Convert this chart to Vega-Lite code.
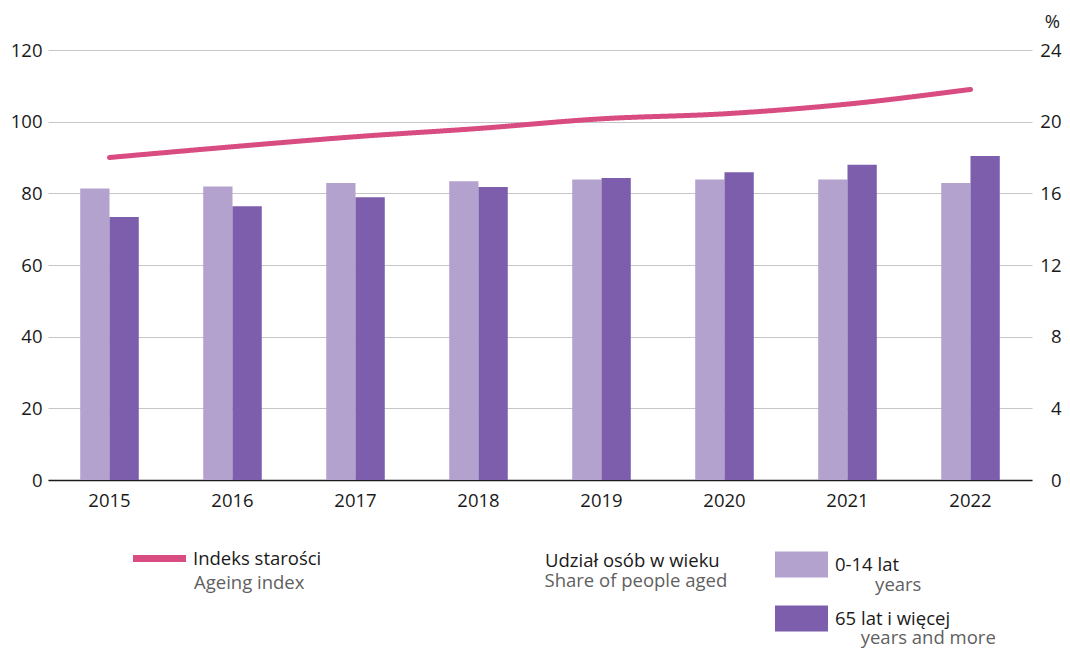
{
  "$schema": "https://vega.github.io/schema/vega-lite/v6.json",
  "width": 984,
  "height": 430,
  "autosize": {"type": "none"},
  "padding": {"left": 48, "top": 50, "right": 38, "bottom": 168},
  "background": "white",
  "config": {
    "view": {"stroke": null},
    "font": "Open Sans",
    "axis": {"labelFont": "Open Sans", "labelFontSize": 18.5, "labelColor": "#1a1a1a", "titleFont": "Open Sans"},
    "legend": {"labelFont": "Open Sans", "labelFontSize": 18.5, "labelLimit": 400}
  },
  "datasets": {
    "shares": [
      {"year": 2015, "group": "0-14 lat", "group_en": "years", "share": 16.27, "head_pl": "Udział osób w wieku"},
      {"year": 2015, "group": "65 lat i więcej", "group_en": "years and more", "share": 14.68, "head_pl": "Udział osób w wieku"},
      {"year": 2016, "group": "0-14 lat", "group_en": "years", "share": 16.38, "head_pl": "Udział osób w wieku"},
      {"year": 2016, "group": "65 lat i więcej", "group_en": "years and more", "share": 15.28, "head_pl": "Udział osób w wieku"},
      {"year": 2017, "group": "0-14 lat", "group_en": "years", "share": 16.58, "head_pl": "Udział osób w wieku"},
      {"year": 2017, "group": "65 lat i więcej", "group_en": "years and more", "share": 15.78, "head_pl": "Udział osób w wieku"},
      {"year": 2018, "group": "0-14 lat", "group_en": "years", "share": 16.67, "head_pl": "Udział osób w wieku"},
      {"year": 2018, "group": "65 lat i więcej", "group_en": "years and more", "share": 16.36, "head_pl": "Udział osób w wieku"},
      {"year": 2019, "group": "0-14 lat", "group_en": "years", "share": 16.77, "head_pl": "Udział osób w wieku"},
      {"year": 2019, "group": "65 lat i więcej", "group_en": "years and more", "share": 16.86, "head_pl": "Udział osób w wieku"},
      {"year": 2020, "group": "0-14 lat", "group_en": "years", "share": 16.77, "head_pl": "Udział osób w wieku"},
      {"year": 2020, "group": "65 lat i więcej", "group_en": "years and more", "share": 17.18, "head_pl": "Udział osób w wieku"},
      {"year": 2021, "group": "0-14 lat", "group_en": "years", "share": 16.77, "head_pl": "Udział osób w wieku"},
      {"year": 2021, "group": "65 lat i więcej", "group_en": "years and more", "share": 17.59, "head_pl": "Udział osób w wieku"},
      {"year": 2022, "group": "0-14 lat", "group_en": "years", "share": 16.58, "head_pl": "Udział osób w wieku"},
      {"year": 2022, "group": "65 lat i więcej", "group_en": "years and more", "share": 18.09, "head_pl": "Udział osób w wieku"}
    ],
    "ageing": [
      {"year": 2015, "index": 90.0, "series": "Indeks starości", "series_en": "Ageing index", "share_head_en": "Share of people aged"},
      {"year": 2016, "index": 93.0, "series": "Indeks starości", "series_en": "Ageing index", "share_head_en": "Share of people aged"},
      {"year": 2017, "index": 95.8, "series": "Indeks starości", "series_en": "Ageing index", "share_head_en": "Share of people aged"},
      {"year": 2018, "index": 98.1, "series": "Indeks starości", "series_en": "Ageing index", "share_head_en": "Share of people aged"},
      {"year": 2019, "index": 100.8, "series": "Indeks starości", "series_en": "Ageing index", "share_head_en": "Share of people aged"},
      {"year": 2020, "index": 102.2, "series": "Indeks starości", "series_en": "Ageing index", "share_head_en": "Share of people aged"},
      {"year": 2021, "index": 104.9, "series": "Indeks starości", "series_en": "Ageing index", "share_head_en": "Share of people aged"},
      {"year": 2022, "index": 109.0, "series": "Indeks starości", "series_en": "Ageing index", "share_head_en": "Share of people aged"}
    ]
  },
  "layer": [
    {
      "data": {"name": "shares"},
      "mark": {"type": "bar", "strokeWidth": 0},
      "encoding": {
        "x": {
          "field": "year", "type": "ordinal",
          "scale": {"type": "band", "paddingInner": 0.524, "paddingOuter": 0.262},
          "axis": {"title": null, "labelAngle": 0, "ticks": false, "domainColor": "#1a1a1a", "domainWidth": 1.5, "labelPadding": 11.5, "grid": false}
        },
        "xOffset": {"field": "group", "type": "nominal", "scale": {"paddingInner": 0, "paddingOuter": 0}},
        "y": {
          "field": "share", "type": "quantitative",
          "scale": {"domain": [0, 24], "nice": false, "zero": true},
          "axis": {
            "orient": "right", "values": [0, 4, 8, 12, 16, 20, 24], "grid": false, "domain": false, "ticks": false,
            "labelAlign": "right", "labelPadding": 29, "labelBaseline": "middle",
            "title": "%", "titleAngle": 0, "titleX": 20, "titleY": -23, "titleAlign": "center", "titleBaseline": "alphabetic",
            "titleFontWeight": "normal", "titleFontSize": 18.5, "titleColor": "#1a1a1a"
          }
        },
        "color": {
          "field": "group", "type": "nominal",
          "scale": {"domain": ["0-14 lat", "65 lat i więcej"], "range": ["#b3a2cd", "#7c5eac"]},
          "legend": {
            "title": null, "orient": "none", "legendX": 727, "legendY": 488, "direction": "vertical",
            "symbolType": "M-1,-0.49H1V0.49H-1Z", "symbolSize": 2809, "symbolStrokeWidth": 0,
            "labelOffset": 7, "rowPadding": 14, "labelColor": "#1a1a1a"
          }
        },
        "opacity": {
          "field": "group_en", "type": "ordinal",
          "scale": {"domain": ["years", "years and more"], "range": [1, 1]},
          "legend": {
            "title": null, "orient": "none", "legendX": 752.7, "legendY": 508, "direction": "vertical",
            "symbolType": "M0,0", "symbolSize": 2809, "symbolStrokeWidth": 0, "symbolOpacity": 0,
            "labelOffset": 7, "rowPadding": 17.6, "labelColor": "#5f5f5f",
            "labelExpr": "datum.label == 'years' ? '\u200b\u00a0\u00a0\u00a0years' : datum.label"
          }
        },
        "stroke": {
          "field": "head_pl", "type": "nominal",
          "scale": {"domain": ["Udział osób w wieku"], "range": ["rgba(0,0,0,0)"]},
          "legend": {
            "title": null, "orient": "none", "legendX": 437, "legendY": 484, "direction": "vertical",
            "symbolType": "M0,0", "symbolSize": 2809, "symbolStrokeWidth": 0, "symbolOpacity": 0,
            "labelOffset": 7, "labelColor": "#1a1a1a"
          }
        }
      }
    },
    {
      "data": {"name": "ageing"},
      "mark": {"type": "line", "strokeWidth": 5, "strokeCap": "round", "interpolate": "monotone"},
      "encoding": {
        "x": {"field": "year", "type": "ordinal"},
        "y": {
          "field": "index", "type": "quantitative",
          "scale": {"domain": [0, 120], "nice": false, "zero": true},
          "axis": {
            "orient": "left", "values": [0, 20, 40, 60, 80, 100, 120], "title": null,
            "grid": true, "gridColor": "#c6c6c6", "gridWidth": 1.2, "domain": false, "ticks": false,
            "labelPadding": 6
          }
        },
        "stroke": {
          "field": "series", "type": "nominal",
          "scale": {"range": ["#d84c82"]},
          "legend": {
            "title": null, "orient": "none", "legendX": 81.5, "legendY": 478.5,
            "symbolType": "stroke", "symbolSize": 2809, "symbolStrokeWidth": 7,
            "labelOffset": 3.5, "labelColor": "#1a1a1a"
          }
        },
        "strokeDash": {
          "field": "series_en", "type": "nominal",
          "scale": {"range": [[1, 0]]},
          "legend": {
            "title": null, "orient": "none", "legendX": 86, "legendY": 506.5,
            "symbolType": "M0,0", "symbolSize": 2809, "symbolStrokeWidth": 0, "symbolOpacity": 0,
            "labelOffset": 7, "labelColor": "#5f5f5f"
          }
        },
        "size": {
          "field": "share_head_en", "type": "ordinal",
          "scale": {"domain": ["Share of people aged"], "range": [5, 5]},
          "legend": {
            "title": null, "orient": "none", "legendX": 471, "legendY": 521.7, "direction": "vertical",
            "symbolType": "M0,0", "symbolSize": 2809, "symbolStrokeWidth": 0, "symbolOpacity": 0,
            "labelOffset": 7, "labelColor": "#5f5f5f"
          }
        }
      }
    }
  ],
  "resolve": {"scale": {"y": "independent", "stroke": "independent"}, "legend": {"stroke": "independent"}}
}
